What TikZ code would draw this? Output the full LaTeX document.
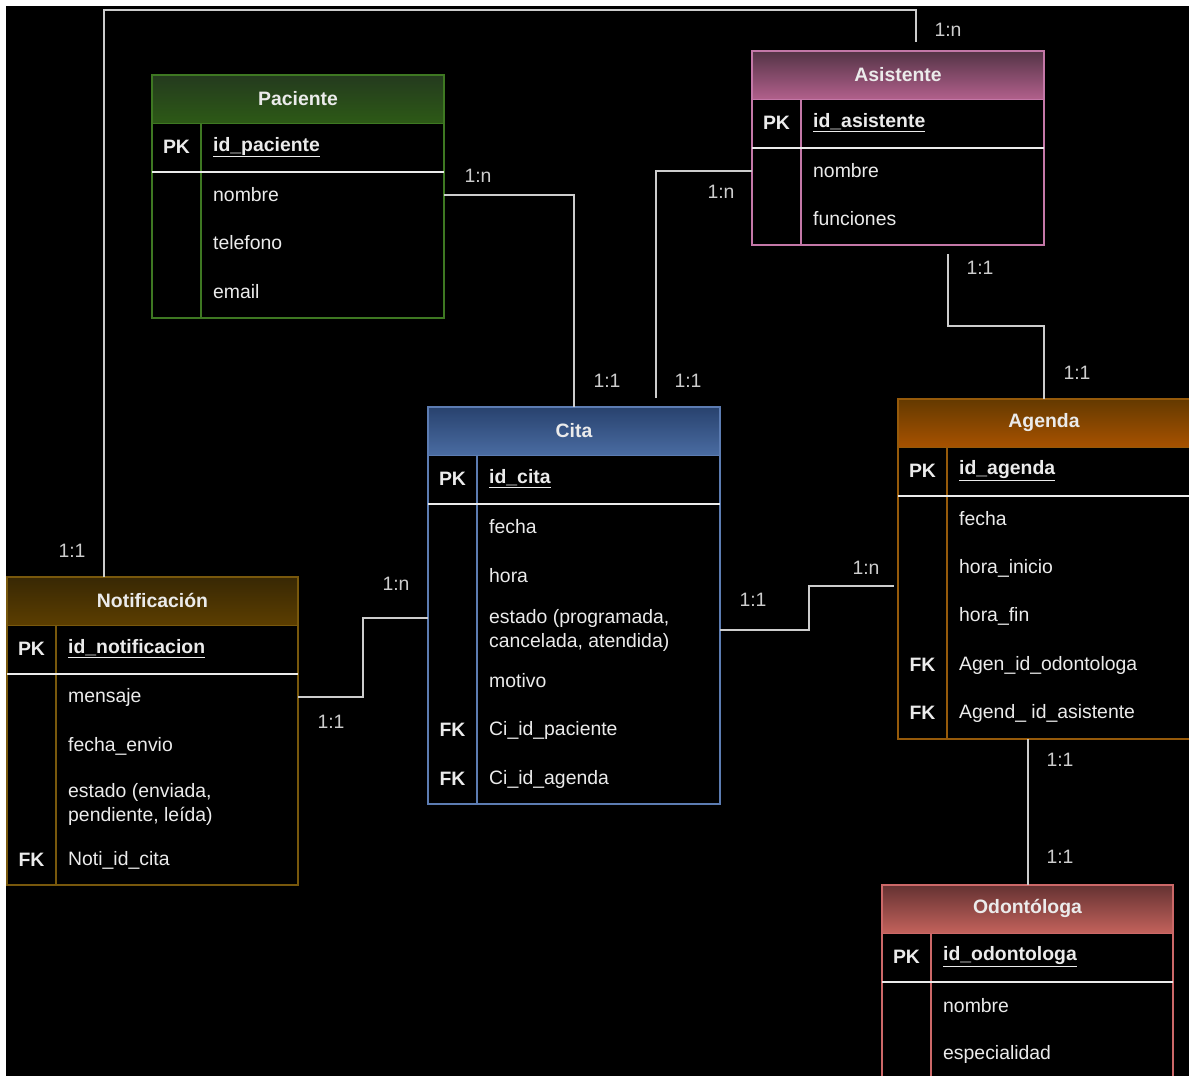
\documentclass[tikz,border=0pt]{standalone}
\usepackage{fontspec}
\setmainfont{Liberation Sans}
\definecolor{pactop}{RGB}{36,58,30}
\definecolor{pacbot}{RGB}{45,90,22}
\definecolor{pacline}{RGB}{62,120,34}
\definecolor{asitop}{RGB}{84,52,70}
\definecolor{asibot}{RGB}{178,96,140}
\definecolor{asiline}{RGB}{196,120,168}
\definecolor{citop}{RGB}{40,66,110}
\definecolor{cibot}{RGB}{74,108,162}
\definecolor{ciline}{RGB}{92,124,178}
\definecolor{agtop}{RGB}{100,58,0}
\definecolor{agbot}{RGB}{168,82,0}
\definecolor{agline}{RGB}{150,90,10}
\definecolor{nottop}{RGB}{56,40,4}
\definecolor{notbot}{RGB}{92,62,0}
\definecolor{notline}{RGB}{120,88,12}
\definecolor{odtop}{RGB}{100,50,50}
\definecolor{odbot}{RGB}{196,98,92}
\definecolor{odline}{RGB}{204,104,104}
\definecolor{wire}{RGB}{205,205,205}
\definecolor{ink}{RGB}{235,235,235}
\newcommand{\erfont}{\fontsize{19.4}{24}\selectfont}
% #1 name, #2 left, #3 top, #4 width, #5 height, #6 colour prefix, #7 title
\newcommand{\ertable}[7]{%
  \shade[top color=#6top, bottom color=#6bot] (#2,#3) rectangle (#2+#4,#3+48.5);
  \node[frame, draw=#6line, minimum width=#4pt, minimum height=#5pt, anchor=north west] (#1) at (#2,#3) {};
  \draw[#6line, line width=1.5pt] (#2,#3+48.5) -- (#2+#4,#3+48.5);
  \draw[#6line, line width=1.5pt] (#2+49,#3+48.5) -- (#2+49,#3+#5);
  \draw[sep] (#2,#3+97) -- (#2+#4,#3+97);
  \node[title] (#1-title) at (#2+#4/2,#3+23.5) {#7};
}

\begin{document}
\begin{tikzpicture}[x=1pt, y=-1pt,
    frame/.style={draw, line width=1.5pt, inner sep=0pt, outer sep=0pt},
    sep/.style={draw=ink, line width=1.5pt},
    title/.style={font=\erfont\bfseries, text=ink},
    key/.style={font=\erfont\bfseries, text=ink, inner sep=0pt},
    field/.style={anchor=west, font=\erfont, text=ink, align=left, inner sep=0pt},
    pkfield/.style={field, font=\erfont\bfseries},
    conn/.style={draw=wire, line width=2pt},
    card/.style={font=\erfont, text=wire}
  ]
  \useasboundingbox (0,0) rectangle (1189,1076);
  \clip (0,0) rectangle (1189,1076);
  \fill[white] (0,0) rectangle (1189,1076);
  \fill[black] (6,6) rectangle (1189,1076);

  % tables
  \ertable{paciente}{152}{75}{292}{243}{pac}{Paciente}
  \node[key] (pac-pk) at (176.5,147) {PK};
  \node[pkfield] (pac-id) at (213,147) {\underline{id\_paciente}};
  \node[field] (pac-nombre) at (213,195) {nombre};
  \node[field] (pac-tel) at (213,243) {telefono};
  \node[field] (pac-email) at (213,292) {email};

  \ertable{asistente}{752}{51}{292}{194}{asi}{Asistente}
  \node[key] (asi-pk) at (776.5,123) {PK};
  \node[pkfield] (asi-id) at (813,123) {\underline{id\_asistente}};
  \node[field] (asi-nombre) at (813,171) {nombre};
  \node[field] (asi-func) at (813,219) {funciones};

  \ertable{cita}{428}{407}{292}{397}{ci}{Cita}
  \node[key] (cita-pk) at (452.5,479) {PK};
  \node[pkfield] (cita-id) at (489,479) {\underline{id\_cita}};
  \node[field] (cita-fecha) at (489,527) {fecha};
  \node[field] (cita-hora) at (489,576) {hora};
  \node[field] (cita-estado) at (489,630) {estado (programada,\\cancelada, atendida)};
  \node[field] (cita-motivo) at (489,681) {motivo};
  \node[key] (cita-fk1) at (452.5,730) {FK};
  \node[field] (cita-pac) at (489,730) {Ci\_id\_paciente};
  \node[key] (cita-fk2) at (452.5,779) {FK};
  \node[field] (cita-ag) at (489,779) {Ci\_id\_agenda};

  \ertable{agenda}{898}{399}{292}{340}{ag}{Agenda}
  \node[key] (ag-pk) at (922.5,471) {PK};
  \node[pkfield] (ag-id) at (959,471) {\underline{id\_agenda}};
  \node[field] (ag-fecha) at (959,519) {fecha};
  \node[field] (ag-ini) at (959,568) {hora\_inicio};
  \node[field] (ag-fin) at (959,616) {hora\_fin};
  \node[key] (ag-fk1) at (922.5,665) {FK};
  \node[field] (ag-od) at (959,665) {Agen\_id\_odontologa};
  \node[key] (ag-fk2) at (922.5,713) {FK};
  \node[field] (ag-asi) at (959,713) {Agend\_ id\_asistente};

  \ertable{notificacion}{7}{577}{291}{308}{not}{Notificación}
  \node[key] (not-pk) at (31.5,649) {PK};
  \node[pkfield] (not-id) at (68,649) {\underline{id\_notificacion}};
  \node[field] (not-mensaje) at (68,697) {mensaje};
  \node[field] (not-fecha) at (68,746) {fecha\_envio};
  \node[field] (not-estado) at (68,804) {estado (enviada,\\pendiente, leída)};
  \node[key] (not-fk) at (31.5,860) {FK};
  \node[field] (not-cita) at (68,860) {Noti\_id\_cita};

  \ertable{odontologa}{882}{885}{291}{195}{od}{Odontóloga}
  \node[key] (od-pk) at (906.5,957) {PK};
  \node[pkfield] (od-id) at (943,957) {\underline{id\_odontologa}};
  \node[field] (od-nombre) at (943,1006) {nombre};
  \node[field] (od-esp) at (943,1054) {especialidad};

  % connectors
  \coordinate (loop-l) at (104,10);
  \coordinate (loop-r) at (916,10);
  \coordinate (asi-top) at (916,42);
  \coordinate (cita-top) at (656,398);
  \coordinate (asi-bot) at (948,254);
  \coordinate (agenda-in) at (894,586);
  \coordinate (cita-in) at (428,618);
  \draw[conn] (loop-l |- notificacion.north) -- (loop-l) -- (loop-r) -- (asi-top);
  \draw[conn] (pac-nombre -| paciente.east) -| (cita.north);
  \draw[conn] (asi-nombre -| asistente.west) -| (cita-top);
  \draw[conn] (asi-bot) -- ++(0,72) -| (agenda.north);
  \draw[conn] (cita-estado -| cita.east) -- ++(89,0) |- (agenda-in);
  \draw[conn] (not-mensaje -| notificacion.east) -- ++(65,0) |- (cita-in);
  \draw[conn] (odontologa.north |- agenda.south) -- (odontologa.north);

  % cardinalities
  \node[card] (c-not-top) at (72,551) {1:1};
  \node[card] (c-asi-top) at (948,30) {1:n};
  \node[card] (c-pac) at (478,176) {1:n};
  \node[card] (c-cita-pac) at (607,381) {1:1};
  \node[card] (c-asi) at (721,192) {1:n};
  \node[card] (c-cita-asi) at (688,381) {1:1};
  \node[card] (c-asi-ag) at (980,268) {1:1};
  \node[card] (c-ag-asi) at (1077,373) {1:1};
  \node[card] (c-cita-ag) at (753,600) {1:1};
  \node[card] (c-ag-cita) at (866,568) {1:n};
  \node[card] (c-not-cita) at (331,722) {1:1};
  \node[card] (c-cita-not) at (396,584) {1:n};
  \node[card] (c-ag-od) at (1060,760) {1:1};
  \node[card] (c-od-ag) at (1060,857) {1:1};
\end{tikzpicture}
\end{document}
